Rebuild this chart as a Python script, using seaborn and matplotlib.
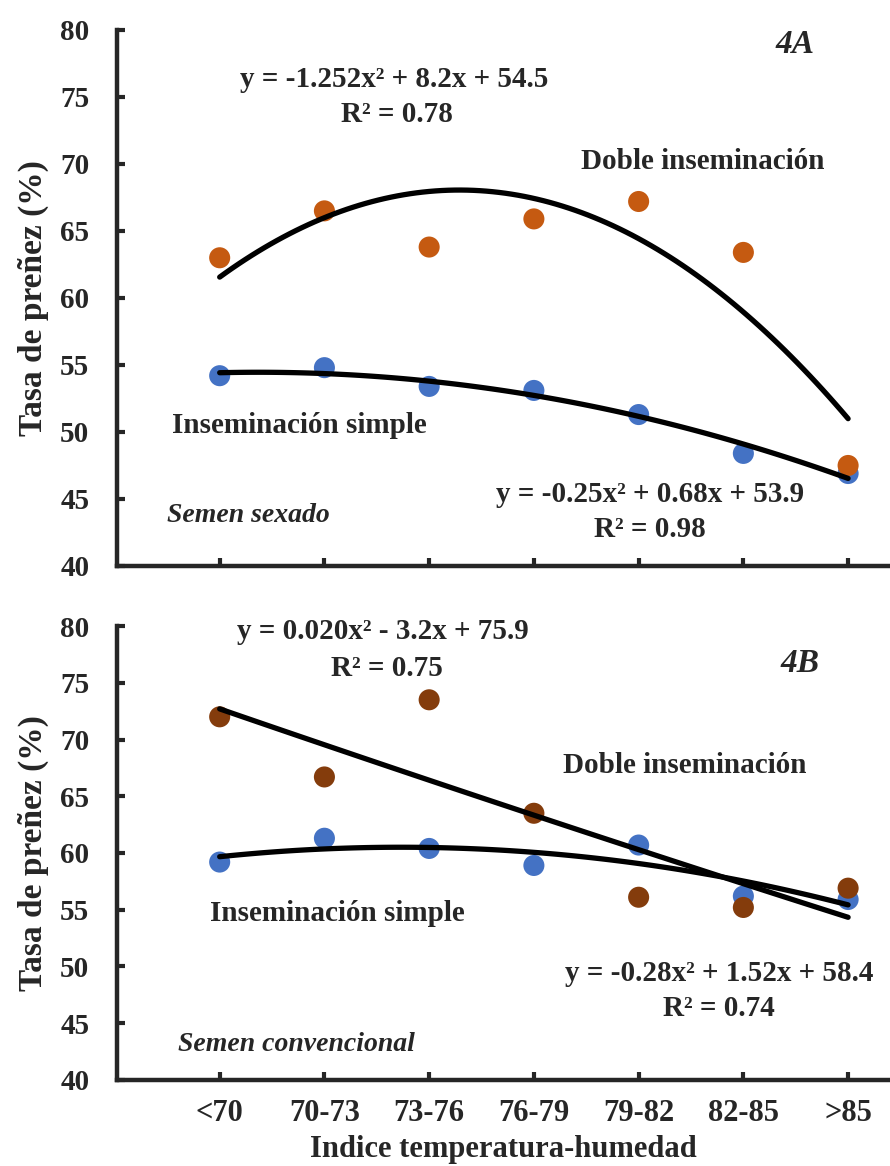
import numpy as np
import pandas as pd
import matplotlib
matplotlib.use("Agg")
import matplotlib.pyplot as plt
import seaborn as sns

categories = ["<70", "70-73", "73-76", "76-79", "79-82", "82-85", ">85"]

# panel A: semen sexado
a_doble = [63.0, 66.5, 63.8, 65.9, 67.2, 63.4, 47.5]
a_simple = [54.2, 54.8, 53.4, 53.1, 51.3, 48.4, 46.9]
# panel B: semen convencional
b_doble = [72.0, 66.7, 73.5, 63.5, 56.1, 55.2, 56.9]
b_simple = [59.2, 61.3, 60.4, 58.9, 60.7, 56.2, 55.9]

blue = "#4472C4"
orange = "#C55A11"
brown = "#843C0C"

sns.set_style("ticks")
plt.rcParams["font.family"] = ["Liberation Serif", "DejaVu Serif"]
plt.rcParams["font.weight"] = "bold"

fig = plt.figure(figsize=(8.9, 11.66), dpi=100)
ax_a = fig.add_axes([0.1315, 0.5146, 0.8685, 0.4597])
ax_b = fig.add_axes([0.1315, 0.0738, 0.8685, 0.3893])

x = np.arange(len(categories))


def panel(ax, simple, doble, dcol):
  """Scatter + 2nd order trend for both series."""
  df = pd.DataFrame({
    "x": np.concatenate([x, x]),
    "tasa": simple + doble,
    "grupo": ["simple"] * len(x) + ["doble"] * len(x),
  })
  sns.scatterplot(data=df, x="x", y="tasa", hue="grupo",
                  palette={"simple": blue, "doble": dcol},
                  s=230, edgecolor="none", legend=False, ax=ax, zorder=2)
  sns.regplot(x=x, y=np.array(simple), order=2, ci=None, scatter=False,
              color="black", line_kws={"lw": 3.8, "zorder": 3}, ax=ax)
  sns.regplot(x=x, y=np.array(doble), order=2, ci=None, scatter=False,
              color="black", line_kws={"lw": 3.8, "zorder": 4}, ax=ax)
  ax.set_xlim(-0.98, 6.4)
  ax.set_ylim(40, 80)
  ax.set_yticks(range(40, 81, 5))
  ax.set_xticks(x)
  sns.despine(ax=ax)
  for side in ["left", "bottom"]:
    ax.spines[side].set_linewidth(3.2)
  ax.tick_params(direction="in", length=6, width=3, labelsize=21)
  ax.tick_params(axis="y", pad=20)
  ax.set_xlabel("")
  ax.set_ylabel("Tasa de preñez (%)", fontsize=24, fontweight="bold", labelpad=8)


panel(ax_a, a_simple, a_doble, orange)
panel(ax_b, b_simple, b_doble, brown)

ax_a.set_xticklabels([])
ax_b.set_xticklabels(categories)
ax_b.tick_params(axis="x", pad=14, labelsize=22)
ax_b.set_xlabel("Indice temperatura-humedad", fontsize=22, fontweight="bold", labelpad=5)

fs = 21
# panel A texts
ax_a.text(5.49, 78.9, "4A", fontsize=24, style="italic", ha="center", va="center")
ax_a.text(1.67, 76.3, "y = -1.252x² + 8.2x + 54.5", fontsize=fs, ha="center", va="center")
ax_a.text(1.69, 73.7, "R² = 0.78", fontsize=fs, ha="center", va="center")
ax_a.text(4.61, 70.15, "Doble inseminación", fontsize=fs, ha="center", va="center")
ax_a.text(0.76, 50.5, "Inseminación simple", fontsize=fs, ha="center", va="center")
ax_a.text(4.11, 45.3, "y = -0.25x² + 0.68x + 53.9", fontsize=fs, ha="center", va="center")
ax_a.text(4.11, 42.7, "R² = 0.98", fontsize=fs, ha="center", va="center")
ax_a.text(0.27, 43.8, "Semen sexado", fontsize=20, style="italic", ha="center", va="center")

# panel B texts
ax_b.text(1.56, 79.5, "y = 0.020x² - 3.2x + 75.9", fontsize=fs, ha="center", va="center")
ax_b.text(1.60, 76.3, "R² = 0.75", fontsize=fs, ha="center", va="center")
ax_b.text(5.54, 76.7, "4B", fontsize=24, style="italic", ha="center", va="center")
ax_b.text(4.44, 67.75, "Doble inseminación", fontsize=fs, ha="center", va="center")
ax_b.text(1.12, 54.7, "Inseminación simple", fontsize=fs, ha="center", va="center")
ax_b.text(4.77, 49.4, "y = -0.28x² + 1.52x + 58.4", fontsize=fs, ha="center", va="center")
ax_b.text(4.77, 46.3, "R² = 0.74", fontsize=fs, ha="center", va="center")
ax_b.text(0.73, 43.1, "Semen convencional", fontsize=20, style="italic", ha="center", va="center")

fig.savefig("out.png", dpi=100)
